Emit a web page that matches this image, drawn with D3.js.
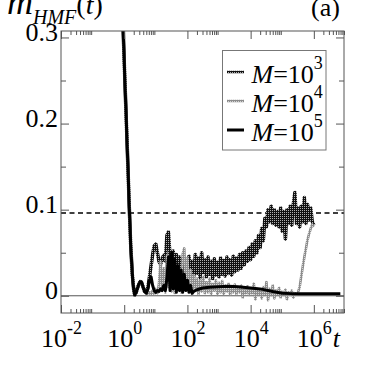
<!DOCTYPE html>
<html>
<head>
<meta charset="utf-8">
<script src="https://cdn.jsdelivr.net/npm/d3@7"></script>
<style>
  body { margin: 0; background: #fff; }
  svg text { font-family: 'Liberation Serif'; fill: #000; }
</style>
</head>
<body>
<div id="chart"></div>
<script>
// early relaxation, shared by all three runs
var tEarly = [0.01, 0.3, 0.6, 0.8, 0.93, 1.05, 1.2, 1.35, 1.45, 1.6, 1.8, 2.0, 2.15, 2.4, 2.8, 3.2, 3.5, 3.9, 4.4];
var mEarly = [0.9, 0.7, 0.5, 0.377, 0.307, 0.25, 0.19, 0.136, 0.102, 0.06, 0.025, 0.007, 0.001, 0.004, 0.012, 0.0165, 0.016, 0.011, 0.005];

// sample times for M=10^3 and M=10^4
var tGrid = [5.01, 5.62, 6.31, 7.08, 7.94, 8.91,
  10, 11.2, 12.6, 14.1, 15.8, 17.8, 20, 22.4, 25.1, 28.2, 31.6, 35.5, 39.8, 44.7, 50.1, 56.2, 63.1, 70.8, 79.4, 89.1,
  100, 112, 126, 141, 158, 178, 200, 224, 251, 282, 316, 355, 398, 447, 501, 562, 631, 708, 794, 891,
  1e3, 1.12e3, 1.26e3, 1.41e3, 1.58e3, 1.78e3, 2e3, 2.24e3, 2.51e3, 2.82e3, 3.16e3, 3.55e3, 3.98e3, 4.47e3, 5.01e3, 5.62e3, 6.31e3, 7.08e3, 7.94e3, 8.91e3,
  1e4, 1.12e4, 1.26e4, 1.41e4, 1.58e4, 1.78e4, 2e4, 2.24e4, 2.51e4, 2.82e4, 3.16e4, 3.55e4, 3.98e4, 4.47e4, 5.01e4, 5.62e4, 6.31e4, 7.08e4, 7.94e4, 8.91e4,
  1e5, 1.12e5, 1.26e5, 1.41e5, 1.58e5, 1.78e5, 2e5, 2.24e5, 2.51e5, 2.82e5, 3.16e5, 3.55e5, 3.98e5, 4.47e5, 5.01e5, 5.62e5, 6.31e5, 7.08e5, 7.94e5, 8.91e5,
  1e6];

var mM3 = [0.004, 0.010, 0.022, 0.035, 0.048, 0.058,
  0.060, 0.050, 0.040, 0.036, 0.043, 0.047, 0.040, 0.070, 0.074, 0.045, 0.030, 0.052, 0.032, 0.048, 0.025, 0.045, 0.028, 0.042, 0.024, 0.040,
  0.026, 0.046, 0.024, 0.040, 0.022, 0.048, 0.026, 0.044, 0.021, 0.050, 0.027, 0.042, 0.022, 0.045, 0.025, 0.040, 0.020, 0.043, 0.024, 0.039,
  0.022, 0.044, 0.025, 0.041, 0.023, 0.045, 0.026, 0.042, 0.024, 0.046, 0.028, 0.044, 0.030, 0.048, 0.032, 0.050, 0.036, 0.052, 0.040, 0.056,
  0.042, 0.060, 0.046, 0.064, 0.050, 0.070, 0.056, 0.078, 0.064, 0.090, 0.080, 0.100, 0.086, 0.104, 0.084, 0.100, 0.082, 0.098, 0.080, 0.102,
  0.075, 0.098, 0.066, 0.100, 0.084, 0.104, 0.082, 0.106, 0.120, 0.084, 0.102, 0.080, 0.104, 0.086, 0.114, 0.084, 0.106, 0.088, 0.102, 0.086,
  0.082];

var mM4 = [0.003, 0.001, 0.004, 0.002, 0.006, 0.002,
  0.008, 0.003, 0.014, 0.040, 0.006, 0.032, 0.004, 0.046, 0.010, 0.038, 0.005, 0.034, 0.003, 0.026, 0.008, 0.020, 0.004, 0.048, 0.055, 0.012,
  0.044, 0.005, 0.030, 0.002, 0.024, 0.006, 0.020, 0.002, 0.018, 0.005, 0.022, 0.003, 0.016, 0.004, 0.020, 0.002, 0.014, 0.006, 0.018, 0.001,
  0.015, 0.004, 0.017, 0.002, 0.012, 0.005, 0.014, 0.001, 0.011, 0.004, 0.013, 0.002, 0.010, 0.004, 0.012, -0.002, 0.009, 0.003, 0.011, 0.001,
  0.008, 0.003, 0.014, -0.004, 0.008, 0.002, 0.006, -0.003, 0.010, 0.002, 0.016, -0.005, 0.008, 0.001, 0.012, -0.003, 0.006, 0.002, 0.009, -0.002,
  0.005, 0.001, 0.007, -0.004, 0.004, 0.001, 0.006, -0.002, 0.003, 0.001, 0.004, 0.010, 0.022, 0.034, 0.045, 0.055, 0.065, 0.072, 0.078, 0.083,
  0.080];

// M=10^5 runs longer and gets smooth after t~200
var tM5 = [5.01, 5.62, 6.31, 7.08, 7.94, 8.91,
  10, 11.2, 12.6, 14.1, 15.8, 17.8, 20, 22.4, 25.1, 28.2, 31.6, 35.5, 39.8, 44.7, 50.1, 56.2, 63.1, 70.8, 79.4, 89.1,
  100, 112, 126, 141, 158, 200, 300, 500, 1e3, 2e3, 4e3, 1e4, 2e4, 5e4, 1e5, 2e5, 1e6, 6.9e6];
var mM5 = [0.003, 0.008, 0.018, 0.022, 0.012, 0.006,
  0.004, 0.006, 0.005, 0.008, 0.006, 0.012, 0.006, 0.020, 0.045, 0.006, 0.050, 0.008, 0.042, 0.004, 0.035, 0.006, 0.030, 0.004, 0.025, 0.006,
  0.018, 0.004, 0.012, 0.003, 0.005, 0.007, 0.009, 0.010, 0.0105, 0.011, 0.0105, 0.009, 0.008, 0.005, 0.003, 0.0025, 0.0025, 0.0025];

var mRef = 0.096;

var xMajor = [1e-2, 1e0, 1e2, 1e4, 1e6];
var xExp = ['-2', '0', '2', '4', '6'];
var yMajor = [0, 0.1, 0.2, 0.3];
var yMinor = [0.05, 0.15, 0.25];
var legendLabels = ['3', '4', '5'];

var xMinor = [];
xMajor.forEach(function (p) {
  for (var k = 2; k <= 9; k++) xMinor.push(k * p);
});

var fLeft = 61, fRight = 344, fTop = 31, fBottom = 313;
var serif = 'Liberation Serif';

var x = d3.scaleLog().domain([1e-2, 9e6]).range([fLeft, fRight]);
var y = d3.scaleLinear().domain([-0.02, 0.3075]).range([fBottom, fTop]);

var svg = d3.select('#chart').append('svg')
  .attr('width', 374).attr('height', 374)
  .style('display', 'block').style('background', '#fff');

var defs = svg.append('defs');
defs.append('clipPath').attr('id', 'clip').append('rect')
  .attr('x', fLeft).attr('y', fTop).attr('width', fRight - fLeft).attr('height', fBottom - fTop);

// halftone fills used by the xmgrace-like strokes
var p3 = defs.append('pattern').attr('id', 'ht3').attr('patternUnits', 'userSpaceOnUse').attr('width', 2).attr('height', 2);
p3.append('rect').attr('width', 2).attr('height', 2).attr('fill', '#111');
p3.append('rect').attr('width', 1).attr('height', 1).attr('fill', '#b0b0b0');
var p4 = defs.append('pattern').attr('id', 'ht4').attr('patternUnits', 'userSpaceOnUse').attr('width', 2).attr('height', 2);
p4.append('rect').attr('width', 2).attr('height', 2).attr('fill', '#8c8c8c');
p4.append('rect').attr('width', 1).attr('height', 1).attr('fill', '#d4d4d4');

var zip = function (ts, ms) {
  return ts.map(function (t, i) { return [t, ms[i]]; });
};
var series = [
  { data: zip(tEarly.concat(tGrid), mEarly.concat(mM3)), stroke: 'url(#ht3)', width: 3.5 },
  { data: zip(tEarly.concat(tGrid), mEarly.concat(mM4)), stroke: 'url(#ht4)', width: 2.6 },
  { data: zip(tEarly.concat(tM5), mEarly.concat(mM5)), stroke: '#000', width: 3 }
];

var line = d3.line().x(function (d) { return x(d[0]); }).y(function (d) { return y(d[1]); });

var plot = svg.append('g').attr('clip-path', 'url(#clip)');

// zero line and reference level
plot.append('line')
  .attr('x1', fLeft).attr('x2', fRight).attr('y1', y(0)).attr('y2', y(0))
  .attr('stroke', '#555').attr('stroke-width', 1);
plot.append('line')
  .attr('x1', fLeft).attr('x2', fRight).attr('y1', y(mRef)).attr('y2', y(mRef))
  .attr('stroke', '#000').attr('stroke-width', 1.5).attr('stroke-dasharray', '5,3.5');

plot.selectAll('path.series').data(series).enter().append('path')
  .attr('class', 'series')
  .attr('d', function (d) { return line(d.data); })
  .attr('fill', 'none')
  .attr('stroke', function (d) { return d.stroke; })
  .attr('stroke-width', function (d) { return d.width; })
  .attr('stroke-linejoin', 'round');

// axes, ticks pointing inward
var styleAxis = function (g) {
  g.attr('font-family', null);
  g.select('.domain').remove();
  g.selectAll('line').attr('stroke', '#555');
};

var bottomAxis = svg.append('g').attr('transform', 'translate(0,' + fBottom + ')')
  .call(d3.axisBottom(x).tickValues(xMajor).tickSize(-8).tickSizeOuter(0).tickFormat(function () { return ''; }))
  .call(styleAxis);
bottomAxis.selectAll('.tick text')
  .attr('y', 34).attr('dy', 0).attr('font-size', 26)
  .style('font-family', serif)
  .text('10')
  .append('tspan').attr('dy', -13).attr('font-size', 18)
  .text(function (d, i) { return xExp[i]; });

svg.append('g').attr('transform', 'translate(0,' + fBottom + ')')
  .call(d3.axisBottom(x).tickValues(xMinor).tickSize(-4).tickSizeOuter(0).tickFormat(''))
  .call(styleAxis);
svg.append('g').attr('transform', 'translate(0,' + fTop + ')')
  .call(d3.axisTop(x).tickValues(xMajor).tickSize(-8).tickSizeOuter(0).tickFormat(''))
  .call(styleAxis);
svg.append('g').attr('transform', 'translate(0,' + fTop + ')')
  .call(d3.axisTop(x).tickValues(xMinor).tickSize(-4).tickSizeOuter(0).tickFormat(''))
  .call(styleAxis);

var leftAxis = svg.append('g').attr('transform', 'translate(' + fLeft + ',0)')
  .call(d3.axisLeft(y).tickValues(yMajor).tickSize(-8).tickSizeOuter(0).tickPadding(3)
    .tickFormat(function (d) { return d === 0 ? '0' : d3.format('.1f')(d); }))
  .call(styleAxis);
leftAxis.selectAll('text').attr('font-size', 26).attr('dy', '0.1em').style('font-family', serif);
svg.append('g').attr('transform', 'translate(' + fLeft + ',0)')
  .call(d3.axisLeft(y).tickValues(yMinor).tickSize(-5).tickSizeOuter(0).tickFormat(''))
  .call(styleAxis);
svg.append('g').attr('transform', 'translate(' + fRight + ',0)')
  .call(d3.axisRight(y).tickValues(yMajor).tickSize(-8).tickSizeOuter(0).tickFormat(''))
  .call(styleAxis);
svg.append('g').attr('transform', 'translate(' + fRight + ',0)')
  .call(d3.axisRight(y).tickValues(yMinor).tickSize(-5).tickSizeOuter(0).tickFormat(''))
  .call(styleAxis);

// frame
svg.append('rect')
  .attr('x', fLeft).attr('y', fTop).attr('width', fRight - fLeft).attr('height', fBottom - fTop)
  .attr('fill', 'none').attr('stroke', '#555').attr('stroke-width', 1);

// axis titles
svg.append('text').attr('x', x(1e6) + 19).attr('y', fBottom + 34)
  .attr('font-size', 26).attr('font-style', 'italic').style('font-family', serif).text('t');

var title = svg.append('text').attr('x', 7).attr('y', 14).attr('font-size', 36).style('font-family', serif);
title.append('tspan').attr('font-style', 'italic').text('m');
title.append('tspan').attr('font-style', 'italic').attr('font-size', 20).attr('dy', 10).text('HMF');
title.append('tspan').attr('font-size', 28).attr('dy', -10).text('(');
title.append('tspan').attr('font-size', 28).attr('font-style', 'italic').text('t');
title.append('tspan').attr('font-size', 28).text(')');

svg.append('text').attr('x', 311).attr('y', 16).attr('font-size', 26).style('font-family', serif).text('(a)');

// legend
var legend = svg.append('g');
legend.append('rect')
  .attr('x', 222.5).attr('y', 50.5).attr('width', 103.5).attr('height', 99.5)
  .attr('fill', '#fff').attr('stroke', '#777').attr('stroke-width', 1);

var items = legend.selectAll('g.item').data(series).enter().append('g')
  .attr('class', 'item')
  .attr('transform', function (d, i) { return 'translate(0,' + (i * 29) + ')'; });
items.append('line')
  .attr('x1', 227).attr('x2', 244).attr('y1', 72).attr('y2', 72)
  .attr('stroke', function (d) { return d.stroke; })
  .attr('stroke-width', function (d, i) { return i === 2 ? 3 : 2.5; });
var lt = items.append('text').attr('x', 251.5).attr('y', 83).attr('font-size', 26).style('font-family', serif);
lt.append('tspan').attr('font-style', 'italic').text('M');
lt.append('tspan').text('=10');
lt.append('tspan').attr('font-size', 18).attr('dy', -14)
  .text(function (d, i) { return legendLabels[i]; });
</script>
</body>
</html>
